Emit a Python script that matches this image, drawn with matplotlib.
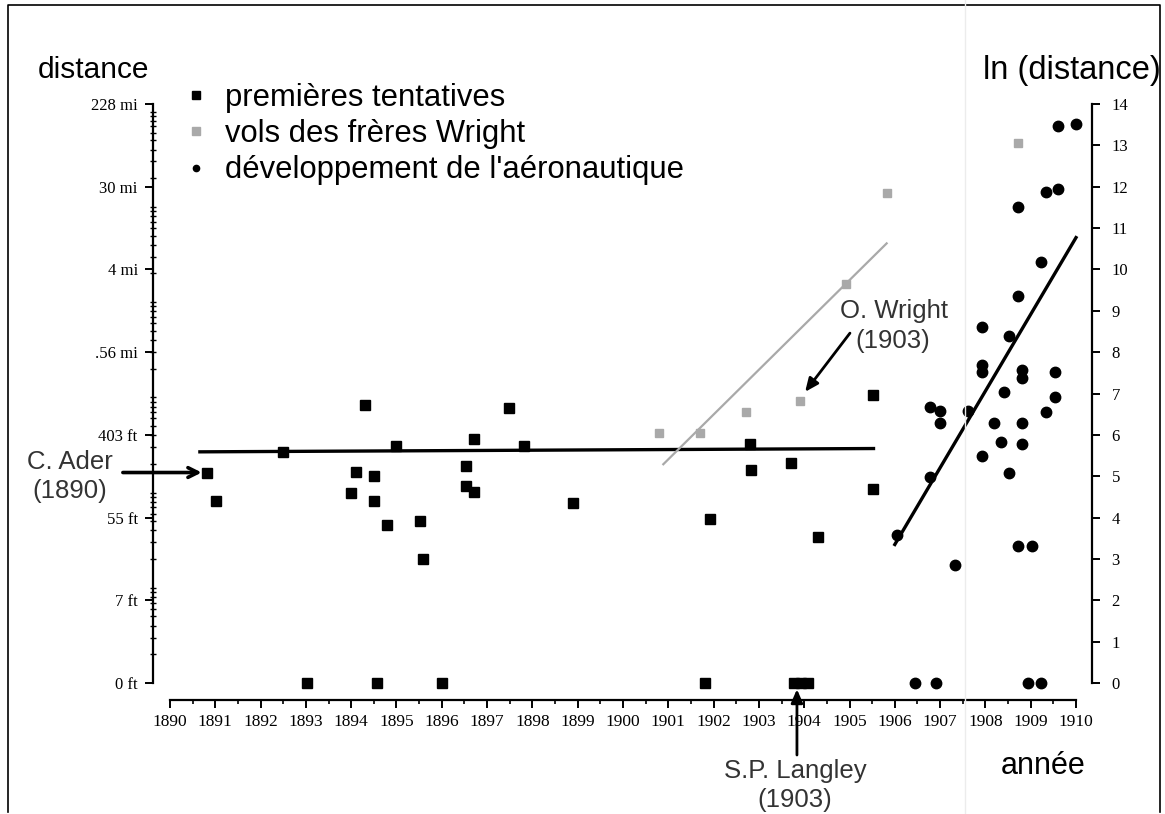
import numpy as np
import matplotlib
matplotlib.use("Agg")
import matplotlib.pyplot as plt
from matplotlib.lines import Line2D

# premières tentatives (année, ln(distance en pieds))
tent_annee = [1890.81, 1891.01, 1892.50, 1893.02, 1893.99, 1894.10, 1894.30, 1894.51,
              1894.51, 1894.58, 1894.78, 1894.99, 1895.52, 1895.59, 1896.01, 1896.53,
              1896.53, 1896.70, 1896.70, 1897.49, 1897.82, 1898.89, 1901.80, 1901.92,
              1902.80, 1902.82, 1903.70, 1903.78, 1903.93, 1904.08, 1904.30, 1905.51,
              1905.51]
tent_ln = [5.09, 4.40, 5.58, 0.0, 4.60, 5.10, 6.72, 5.01,
           4.40, 0.0, 3.83, 5.74, 3.92, 3.01, 0.0, 5.24,
           4.76, 5.90, 4.62, 6.64, 5.74, 4.35, 0.0, 3.96,
           5.78, 5.15, 5.33, 0.0, 0.0, 0.0, 3.54, 6.97,
           4.68]

# vols des frères Wright
wright_annee = [1900.80, 1901.70, 1902.72, 1903.91, 1904.92, 1905.82, 1908.73]
wright_ln = [6.04, 6.04, 6.55, 6.83, 9.66, 11.84, 13.06]

# développement de l'aéronautique
dev_annee = [1906.04, 1906.45, 1906.78, 1906.78, 1906.92, 1907.00, 1907.00, 1907.33,
             1907.62, 1907.93, 1907.93, 1907.93, 1907.93, 1908.20, 1908.34, 1908.40,
             1908.53, 1908.53, 1908.73, 1908.73, 1908.73, 1908.80, 1908.80, 1908.80,
             1908.80, 1908.95, 1909.02, 1909.22, 1909.22, 1909.34, 1909.34, 1909.54,
             1909.54, 1909.61, 1909.61, 1910.01]
dev_ln = [3.59, 0.0, 6.67, 4.99, 0.0, 6.57, 6.28, 2.86,
          6.57, 8.61, 7.69, 7.53, 5.48, 6.28, 5.83, 7.03,
          8.39, 5.09, 11.50, 9.35, 3.31, 7.56, 7.37, 6.28,
          5.79, 0.0, 3.31, 10.19, 0.0, 11.87, 6.55, 7.53,
          6.92, 13.46, 11.95, 13.52]

# droites de tendance (extrémités)
tent_fit_x = [1890.66, 1905.53]
tent_fit_y = [5.59, 5.67]
wright_fit_x = [1900.89, 1905.82]
wright_fit_y = [5.29, 10.63]
dev_fit_x = [1906.0, 1910.0]
dev_fit_y = [3.35, 10.77]

# axes
annees = list(range(1890, 1911))
ln_ticks = list(range(0, 15, 2))
dist_labels = ["0 ft", "7 ft", "55 ft", "403 ft", ".56 mi", "4 mi", "30 mi", "228 mi"]
ln_right = list(range(0, 15))

W, H = 1165, 814
SANS = "Liberation Sans"
SERIF = "Liberation Serif"


def fx(px):
    return px / W


def fy(py):
    return 1 - py / H


fig = plt.figure(figsize=(W / 100, H / 100), dpi=100)
ax = fig.add_axes([fx(153), fy(700), fx(1092) - fx(153), fy(104) - fy(700)])
ax.set_xlim(1889.625, 1910.353)
ax.set_ylim(-0.41, 14.0)

# points
ax.plot(tent_annee, tent_ln, "s", color="black", ms=7.5, ls="none", clip_on=False)
ax.plot(wright_annee, wright_ln, "s", color="#a9a9a9", ms=6, ls="none", clip_on=False)
ax.plot(dev_annee, dev_ln, "o", color="black", ms=7.5, ls="none", clip_on=False)

# tendances
ax.plot(tent_fit_x, tent_fit_y, color="black", lw=2.4)
ax.plot(wright_fit_x, wright_fit_y, color="#a9a9a9", lw=1.6)
ax.plot(dev_fit_x, dev_fit_y, color="black", lw=2.4)

# spines
ax.spines["top"].set_visible(False)
ax.spines["left"].set_bounds(0, 14)
ax.spines["right"].set_bounds(0, 14)
ax.spines["bottom"].set_bounds(1890, 1910)
for s in ["left", "right", "bottom"]:
    ax.spines[s].set_linewidth(1.6)

ax.set_xticks(annees)
ax.set_xticklabels([str(a) for a in annees], fontfamily=SERIF, fontsize=12.5)
ax.set_xticks(np.arange(1890.5, 1910, 1), minor=True)
ax.tick_params(axis="x", which="major", direction="out", length=6, width=1.4, pad=4)
ax.tick_params(axis="x", which="minor", direction="out", length=3, width=1.2)

ax.set_yticks(ln_ticks)
ax.set_yticklabels(dist_labels, fontfamily=SERIF, fontsize=12)
# graduations secondaires en pieds (1..9 x 10^n)
mineurs = [np.log(k * 10 ** n) for n in range(0, 7) for k in range(1, 10)]
mineurs = [m for m in mineurs if 0 < m < 14]
ax.set_yticks(mineurs, minor=True)
ax.tick_params(axis="y", which="major", direction="out", length=6, width=1.4, pad=5,
               left=True, right=False)
ax.tick_params(axis="y", which="minor", direction="inout", length=5, width=1.0,
               left=True, right=False)

# axe de droite en ln
ax2 = ax.twinx()
ax2.set_ylim(ax.get_ylim())
for s in ["top", "left", "bottom", "right"]:
    ax2.spines[s].set_visible(False)
ax2.set_yticks(ln_right)
ax2.set_yticklabels([str(v) for v in ln_right], fontfamily=SERIF, fontsize=12)
ax2.tick_params(axis="y", direction="out", length=6, width=1.4, pad=8)

# légende
h1 = Line2D([], [], marker="s", color="black", ls="none", ms=5.5)
h2 = Line2D([], [], marker="s", color="#a9a9a9", ls="none", ms=5.5)
h3 = Line2D([], [], marker="o", color="black", ls="none", ms=4.5)
fig.legend([h1, h2, h3],
           ["premières tentatives", "vols des frères Wright", "développement de l'aéronautique"],
           loc="upper left", bbox_to_anchor=(fx(187), fy(83)), frameon=False,
           prop={"family": SANS, "size": 22.3}, handlelength=0.6, handletextpad=0.62,
           labelspacing=0.2, borderaxespad=0, borderpad=0)

# titres des axes
fig.text(fx(38), fy(70), "distance", family=SANS, fontsize=21.5, va="center", ha="left")
fig.text(fx(1161), fy(70), "ln (distance)", family=SANS, fontsize=23.5, va="center",
         ha="right")
fig.text(fx(1043), fy(766), "année", family=SANS, fontsize=22, va="center", ha="center")

# annotations
fig.text(fx(70), fy(462), "C. Ader", family=SANS, fontsize=18.5, va="center", ha="center",
         color="#333333")
fig.text(fx(70), fy(491), "(1890)", family=SANS, fontsize=18.5, va="center", ha="center",
         color="#333333")
ax.annotate("", xy=(1890.70, 5.09), xytext=(1888.96, 5.09), annotation_clip=False,
            arrowprops=dict(arrowstyle="->,head_length=0.7,head_width=0.35", lw=2.6,
                            color="black", shrinkA=0, shrinkB=0))

fig.text(fx(840), fy(311), "O. Wright", family=SANS, fontsize=18.5, va="center", ha="left",
         color="#333333")
fig.text(fx(855), fy(341), "(1903)", family=SANS, fontsize=18.5, va="center", ha="left",
         color="#333333")
ax.annotate("", xy=(1904.02, 7.04), xytext=(1905.01, 8.46), annotation_clip=False,
            arrowprops=dict(arrowstyle="-|>,head_length=0.8,head_width=0.35", lw=2,
                            color="black", shrinkA=0, shrinkB=0))

fig.text(fx(795), fy(771), "S.P. Langley", family=SANS, fontsize=18.5, va="center",
         ha="center", color="#333333")
fig.text(fx(795), fy(800), "(1903)", family=SANS, fontsize=18.5, va="center", ha="center",
         color="#333333")
ax.annotate("", xy=(1903.84, -0.15), xytext=(1903.84, -1.74), annotation_clip=False,
            arrowprops=dict(arrowstyle="-|>,head_length=0.8,head_width=0.35", lw=2,
                            color="black", shrinkA=0, shrinkB=0))

# cadre de la figure et pli du scan
fig.add_artist(Line2D([fx(8), fx(8), fx(1160), fx(1160)], [fy(812), fy(5), fy(5), fy(812)],
                      color="black", lw=1.2))
fig.add_artist(Line2D([fx(965), fx(965)], [fy(0), fy(814)], color="#ececec", lw=1))

fig.savefig("out.png", dpi=100)
